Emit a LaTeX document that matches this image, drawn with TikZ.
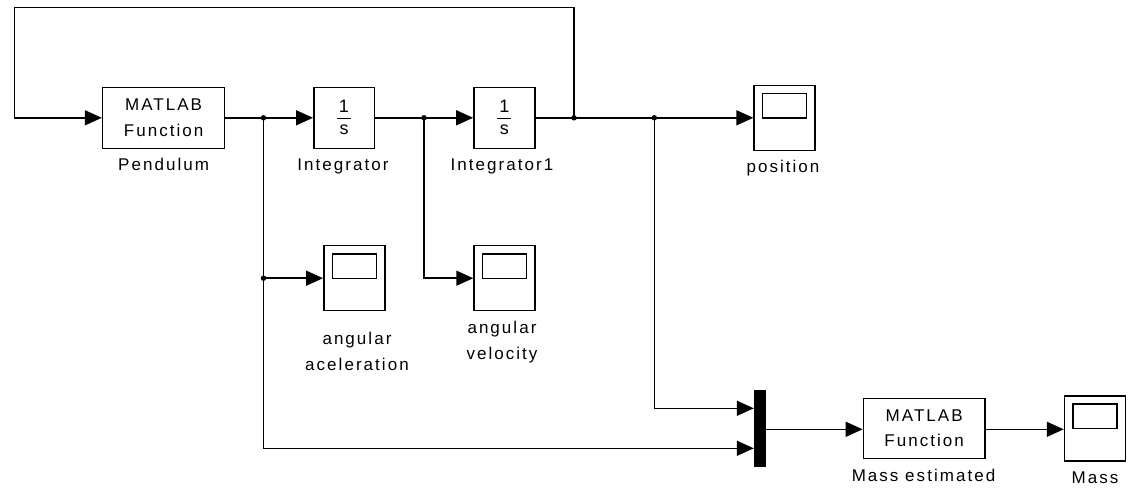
\documentclass[tikz,border=0pt]{standalone}
\usepackage{fontspec}
\usetikzlibrary{arrows.meta}
\newfontfamily\simfont[LetterSpace=12]{Liberation Sans}
\newfontfamily\simfontn{Liberation Sans}
\newcommand{\oneovers}{\vbox{\simfontn\fontsize{18}{18}\selectfont
  \hbox to 14pt{\hss 1\hss}\kern5pt\hrule height 1.4pt\kern6pt\hbox to 14pt{\hss s\hss}}}
\begin{document}
\begin{tikzpicture}[x=1pt,y=-1pt,
  lw/.style={line width=1.5pt},
  blk/.style={draw,lw,fill=white,inner sep=0pt,align=center,
    font={\simfont\fontsize{17}{25.5}\selectfont}},
  intblk/.style={draw,lw,fill=white,inner sep=0pt,minimum width=61pt,minimum height=61pt},
  scopebox/.style={draw,lw,fill=white,minimum width=61pt,minimum height=65pt,inner sep=0pt,
    path picture={\draw[lw] ([xshift=8.5pt,yshift=-8.3pt]path picture bounding box.north west)
      rectangle ([xshift=-8.5pt,yshift=-32.6pt]path picture bounding box.north east);}},
  muxbar/.style={fill=black,draw=black,minimum width=11pt,minimum height=76.7pt,inner sep=0pt},
  sig/.style={lw,-{Triangle[length=17pt,width=15pt]}},
  lab/.style={anchor=base,inner sep=0pt,align=center,font={\simfont\fontsize{17}{25.5}\selectfont}},
  dot/.style={circle,fill=black,inner sep=0pt,minimum size=5.5pt}
]
\useasboundingbox (0,0) rectangle (1134,487);

% blocks
\node[blk,minimum width=122pt,minimum height=61pt] (pend) at (163.6,117.8) {MATLAB\\Function};
\node[intblk,minimum width=60.5pt] (integ) at (344,117.8) {\oneovers};
\node[intblk] (integb) at (504.4,117.8) {\oneovers};
\node[scopebox] (pos) at (784.6,117.8) {};
\node[scopebox] (acc) at (354.3,278.2) {};
\node[scopebox] (vel) at (504.5,278.2) {};
\node[muxbar] (mux) at (759.5,428.3) {};
\node[blk,minimum width=121.7pt,minimum height=60pt] (mest) at (924.2,428.3) {MATLAB\\Function};
\node[scopebox] (mass) at (1095,428.3) {};

% labels
\node[lab] (lpend) at (163.6,170.7) {Pendulum};
\node[lab] (linteg) at (343,170.7) {Integrator};
\node[lab] (lintegb) at (502,170.7) {Integrator1};
\node[lab] (lpos) at (783,172.7) {position};
\node[lab] (lacc) at (357,370) {angular\\aceleration};
\node[lab] (lvel) at (502,359) {angular\\velocity};
\node[lab] (lmest) at (923.5,481.7) {Mass estimated};
\node[lab] (lmass) at (1095,483) {Mass};

% junctions
\coordinate (j1) at (263.5,117.8);
\coordinate (j2) at (424,117.8);
\coordinate (j3) at (574,117.8);
\coordinate (j5) at (654.3,117.8);
\coordinate (j4) at (263.5,278.2);
\coordinate (fbtop) at (14.5,7.3);
\coordinate (min1) at ([yshift=20pt]mux.west);
\coordinate (min2) at ([yshift=-20pt]mux.west);

% connectors
\draw[sig] (pend.east) -- (integ.west);
\draw[sig] (integ.east) -- (integb.west);
\draw[sig] (integb.east) -- (pos.west);
\draw[sig] (j3) |- (fbtop) |- (pend.west);
\draw[sig] (j4) -- (acc.west);
\draw[sig] (j1) |- (min2);
\draw[sig] (j2) |- (vel.west);
\draw[sig] (j5) |- (min1);
\draw[sig] ([yshift=-1pt]mux.east) -- ([yshift=-1pt]mest.west);
\draw[sig] ([yshift=-1pt]mest.east) -- ([yshift=-1pt]mass.west);

\foreach \j in {j1,j2,j3,j4,j5} \node[dot] at (\j) {};
\end{tikzpicture}
\end{document}
